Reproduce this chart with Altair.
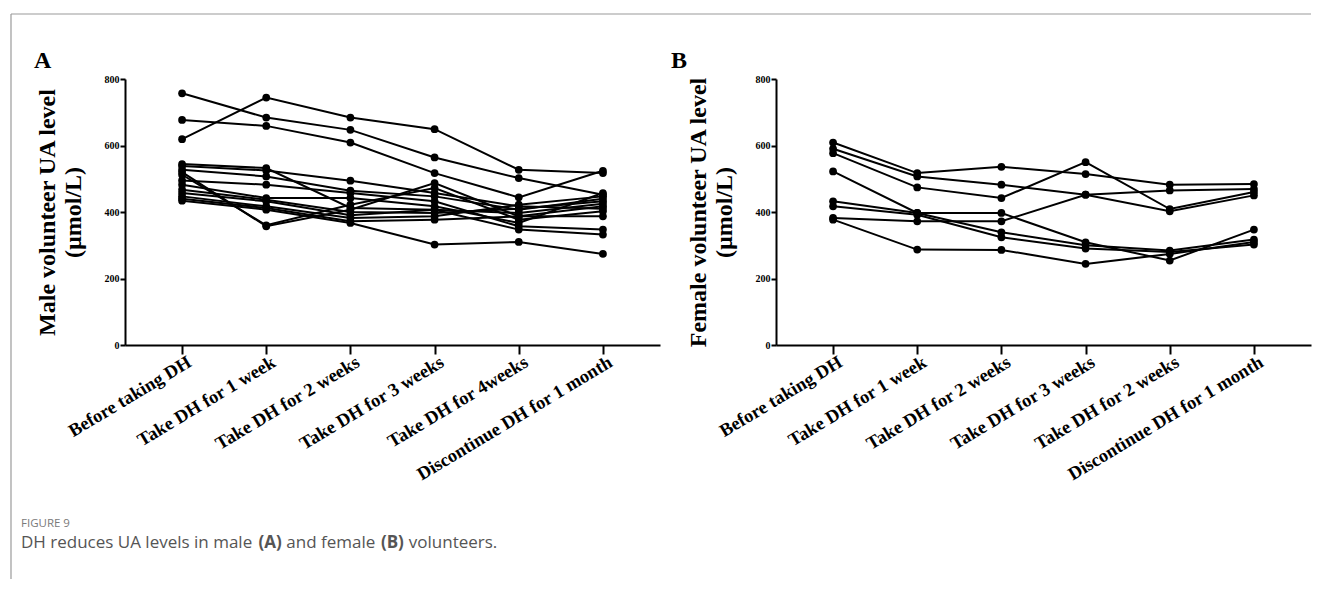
import json
import altair as alt
import pandas as pd

# ---------------- data ----------------
male_labels = ["Before taking DH", "Take DH for 1 week", "Take DH for 2 weeks",
               "Take DH for 3 weeks", "Take DH for 4weeks", "Discontinue DH for 1 month"]
female_labels = ["Before taking DH", "Take DH for 1 week", "Take DH for 2 weeks",
                 "Take DH for 3 weeks", "Take DH for 2 weeks", "Discontinue DH for 1 month"]

male_01 = [757, 684, 647, 564, 502, 452]
male_02 = [619, 744, 684, 649, 527, 517]
male_03 = [677, 659, 609, 517, 444, 524]
male_04 = [544, 532, 412, 407, 397, 425]
male_05 = [538, 525, 494, 457, 417, 410]
male_06 = [527, 507, 464, 447, 407, 440]
male_07 = [520, 357, 407, 487, 387, 417]
male_08 = [512, 360, 422, 472, 377, 402]
male_09 = [495, 482, 457, 432, 357, 347]
male_10 = [482, 442, 442, 417, 367, 457]
male_11 = [467, 437, 400, 397, 410, 432]
male_12 = [457, 432, 390, 407, 347, 332]
male_13 = [447, 417, 382, 387, 422, 447]
male_14 = [440, 412, 372, 377, 387, 387]
male_15 = [434, 407, 367, 302, 310, 274]

female_1 = [609, 517, 536, 514, 482, 484]
female_2 = [590, 507, 482, 452, 465, 469]
female_3 = [577, 474, 442, 550, 409, 460]
female_4 = [522, 397, 339, 300, 284, 317]
female_5 = [432, 397, 397, 309, 254, 347]
female_6 = [417, 392, 324, 290, 280, 302]
female_7 = [382, 372, 372, 452, 402, 450]
female_8 = [377, 287, 286, 244, 274, 310]

male_series = [male_01, male_02, male_03, male_04, male_05, male_06, male_07, male_08,
               male_09, male_10, male_11, male_12, male_13, male_14, male_15]
female_series = [female_1, female_2, female_3, female_4, female_5, female_6, female_7, female_8]

y_ticks = [0, 200, 400, 600, 800]


def long_table(series):
    rows = []
    for i, s in enumerate(series):
        for t, v in enumerate(s):
            rows.append({"id": i, "t": t, "v": v})
    return pd.DataFrame(rows)


one = pd.DataFrame({"k": [0]})

SERIF = "Liberation Serif"
SANS = "Open Sans"
W, H = 535, 266


def panel(series, labels, title_lines, letter, letter_dx, extras=()):
    df = long_table(series)
    lab_expr = json.dumps(labels) + "[datum.value]"
    x = alt.X("t:O",
              scale=alt.Scale(type="point", padding=0.678),
              axis=alt.Axis(title=None, labelExpr=lab_expr, labelAngle=-31,
                            labelAlign="right", labelBaseline="middle",
                            labelFont=SERIF, labelFontWeight="bold", labelFontSize=18.5,
                            labelColor="black", labelPadding=6, labelOffset=7,
                            labelOverlap=False, labelLimit=0, tickSize=9, tickWidth=2,
                            tickColor="black", domainColor="black", domainWidth=2,
                            grid=False))
    y = alt.Y("v:Q",
              scale=alt.Scale(domain=[0, 800], nice=False),
              axis=alt.Axis(values=y_ticks, title=title_lines, titleFont=SERIF,
                            titleFontWeight="bold", titleFontSize=24, titleLineHeight=26,
                            titleColor="black", titlePadding=19,
                            labelFont=SERIF, labelFontWeight="bold", labelFontSize=10,
                            labelColor="black", labelPadding=1, tickSize=5, tickWidth=2,
                            tickColor="black", domainColor="black", domainWidth=2,
                            grid=False))
    base = alt.Chart(df)
    lines = base.mark_line(color="black", strokeWidth=2).encode(x=x, y=y, detail="id:N")
    pts = base.mark_circle(color="black", size=60, opacity=1).encode(x=x, y=y, detail="id:N")
    letter_mark = alt.Chart(one).mark_text(
        text=letter, font=SERIF, fontWeight="bold", fontSize=24, align="left",
        baseline="alphabetic", color="black"
    ).encode(x=alt.value(letter_dx), y=alt.value(-11))
    return alt.layer(lines, pts, letter_mark, *extras).properties(width=W, height=H)


# frame and caption (drawn relative to panel A)
frame_left = alt.Chart(one).mark_rule(color="#9a9a9a", strokeWidth=1.2).encode(
    x=alt.value(-114), y=alt.value(-65), y2=alt.value(500))
frame_top = alt.Chart(one).mark_rule(color="#9a9a9a", strokeWidth=1.2).encode(
    x=alt.value(-114), x2=alt.value(1186), y=alt.value(-65))

cap_x = -104
fig_label = alt.Chart(one).mark_text(
    text="FIGURE 9", font=SANS, fontSize=11.5, color="#7a7a7a", align="left",
    baseline="alphabetic").encode(x=alt.value(cap_x), y=alt.value(448))

cap_size = 17
caption_parts = [
    ("DH reduces UA levels in male", "normal", 0.0),
    ("(A)", "bold", 13.97),
    ("and female", "normal", 15.61),
    ("(B)", "bold", 21.17),
    ("volunteers.", "normal", 22.81),
]
cap_marks = []
for txt, wt, off_em in caption_parts:
    cap_marks.append(alt.Chart(one).mark_text(
        text=txt, font=SANS, fontSize=cap_size, fontWeight=wt, color="#555555",
        align="left", baseline="alphabetic").encode(
            x=alt.value(cap_x + off_em * cap_size), y=alt.value(469)))

panel_a = panel(male_series, male_labels, ["Male volunteer UA level", "(µmol/L)"], "A", -91,
                extras=[frame_left, frame_top, fig_label] + cap_marks)
panel_b = panel(female_series, female_labels, ["Female volunteer UA level", "(µmol/L)"], "B", -105)

chart = alt.hconcat(panel_a, panel_b, spacing=116, bounds="flush").properties(
    padding={"left": 2, "top": 5, "right": 0, "bottom": 0}
).configure_view(stroke=None)

chart.save("out.html", embed_options={"renderer": "svg", "actions": False})
